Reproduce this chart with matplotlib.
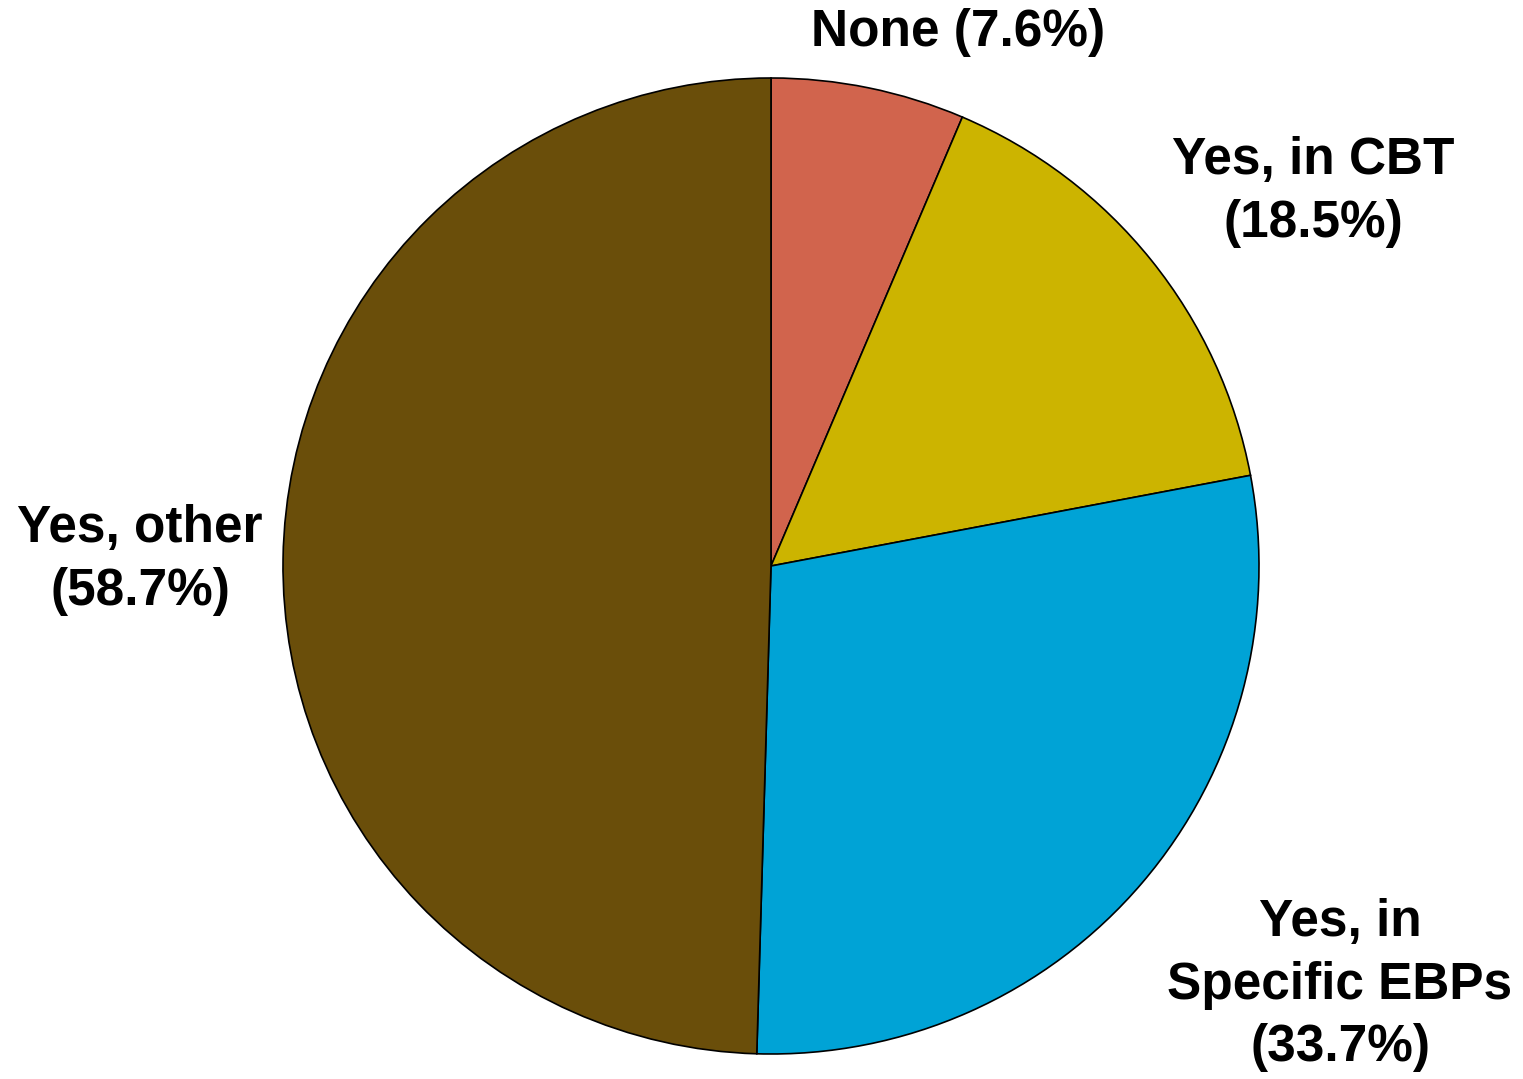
import matplotlib.pyplot as plt
import numpy as np

plt.rcParams['font.family'] = ['Liberation Sans', 'DejaVu Sans']

labels = ["None (7.6%)", "Yes, in CBT\n(18.5%)", "Yes, in\nSpecific EBPs\n(33.7%)", "Yes, other\n(58.7%)"]
values = [7.6, 18.5, 33.7, 58.7]
colors = ["#D1644D", "#CCB400", "#00A3D6", "#6A4E0A"]
# label positions in units of pie radius (relative to centre)
label_pos = [(0.383, 1.094), (1.111, 0.766), (1.166, -0.859), (-1.293, 0.012)]

fig = plt.figure(figsize=(15.23, 10.79), dpi=100)
# centre at (771, 566) px, radius ~488 px
R = 488
cx, cy = 771, 1079 - 566
ax = fig.add_axes([(cx - R) / 1523, (cy - R) / 1079, 2 * R / 1523, 2 * R / 1079])

wedges, texts = ax.pie(values, labels=labels, colors=colors, startangle=90,
                       counterclock=False, radius=1.0,
                       wedgeprops=dict(edgecolor="black", linewidth=1.2),
                       textprops=dict(fontsize=37, fontweight="bold"))
for t, (x, y) in zip(texts, label_pos):
    t.set_position((x, y))
    t.set_ha("center")
    t.set_va("center")
    t.set_multialignment("center")
    t.set_linespacing(1.36)

ax.set_xlim(-1, 1)
ax.set_ylim(-1, 1)
ax.set_aspect("equal")
ax.axis("off")

fig.savefig("out.png", dpi=100)
